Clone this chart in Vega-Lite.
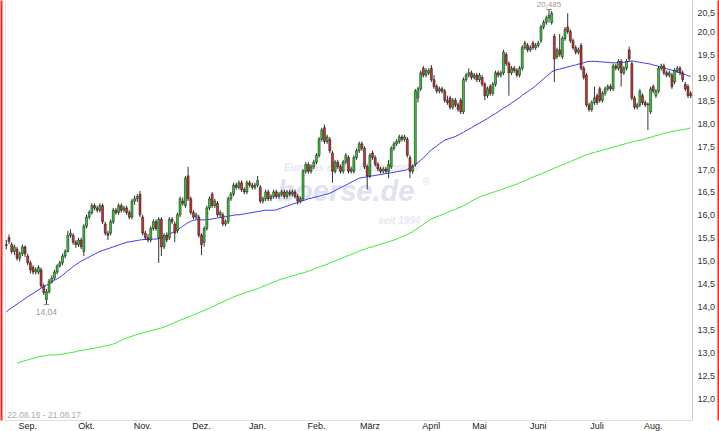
{
"$schema":"https://vega.github.io/schema/vega-lite/v6.json",
"width":687,"height":420,
"autosize":{"type":"none"},
"padding":{"left":5,"top":0,"right":27,"bottom":11},
"background":"#ffffff",
"config":{"font":"Liberation Sans","view":{"stroke":null},"axis":{"grid":false}},
"datasets":{
"p":[
{"d":"2016-08-22","o":15.33,"h":15.45,"l":15.25,"c":15.35,"m":13.88,"s":null},
{"d":"2016-08-23","o":15.5,"h":15.57,"l":15.36,"c":15.42,"m":13.93,"s":null},
{"d":"2016-08-24","o":15.35,"h":15.4,"l":15.15,"c":15.2,"m":13.97,"s":null},
{"d":"2016-08-25","o":15.2,"h":15.35,"l":15.12,"c":15.3,"m":14.01,"s":null},
{"d":"2016-08-26","o":15.25,"h":15.3,"l":15.0,"c":15.05,"m":14.05,"s":12.76},
{"d":"2016-08-29","o":15.05,"h":15.2,"l":14.98,"c":15.15,"m":14.09,"s":12.78},
{"d":"2016-08-30","o":15.15,"h":15.35,"l":15.1,"c":15.3,"m":14.13,"s":12.8},
{"d":"2016-08-31","o":15.3,"h":15.33,"l":15.08,"c":15.15,"m":14.17,"s":12.82},
{"d":"2016-09-01","o":15.1,"h":15.15,"l":14.9,"c":14.95,"m":14.21,"s":12.83},
{"d":"2016-09-02","o":14.95,"h":15.0,"l":14.72,"c":14.8,"m":14.25,"s":12.85},
{"d":"2016-09-05","o":14.85,"h":14.9,"l":14.7,"c":14.75,"m":14.28,"s":12.87},
{"d":"2016-09-06","o":14.75,"h":14.85,"l":14.7,"c":14.8,"m":14.32,"s":12.88},
{"d":"2016-09-07","o":14.75,"h":14.9,"l":14.7,"c":14.85,"m":14.36,"s":12.9},
{"d":"2016-09-08","o":14.8,"h":14.85,"l":14.4,"c":14.45,"m":14.4,"s":12.91},
{"d":"2016-09-09","o":14.45,"h":14.5,"l":14.25,"c":14.3,"m":14.43,"s":12.92},
{"d":"2016-09-12","o":14.15,"h":14.38,"l":14.04,"c":14.32,"m":14.46,"s":12.93},
{"d":"2016-09-13","o":14.32,"h":14.6,"l":14.28,"c":14.55,"m":14.5,"s":12.94},
{"d":"2016-09-14","o":14.55,"h":14.68,"l":14.5,"c":14.62,"m":14.53,"s":12.94},
{"d":"2016-09-15","o":14.62,"h":14.8,"l":14.58,"c":14.75,"m":14.57,"s":12.94},
{"d":"2016-09-16","o":14.75,"h":14.92,"l":14.7,"c":14.88,"m":14.6,"s":12.94},
{"d":"2016-09-19","o":14.88,"h":15.0,"l":14.85,"c":14.95,"m":14.64,"s":12.95},
{"d":"2016-09-20","o":14.95,"h":15.15,"l":14.9,"c":15.1,"m":14.68,"s":12.96},
{"d":"2016-09-21","o":15.1,"h":15.25,"l":15.05,"c":15.2,"m":14.73,"s":12.97},
{"d":"2016-09-22","o":15.2,"h":15.65,"l":15.18,"c":15.55,"m":14.78,"s":12.98},
{"d":"2016-09-23","o":15.55,"h":15.68,"l":15.5,"c":15.6,"m":14.82,"s":12.99},
{"d":"2016-09-26","o":15.55,"h":15.6,"l":15.35,"c":15.4,"m":14.87,"s":13.0},
{"d":"2016-09-27","o":15.4,"h":15.45,"l":15.28,"c":15.35,"m":14.91,"s":13.01},
{"d":"2016-09-28","o":15.35,"h":15.5,"l":15.3,"c":15.45,"m":14.95,"s":13.03},
{"d":"2016-09-29","o":15.45,"h":15.5,"l":15.25,"c":15.3,"m":14.99,"s":13.04},
{"d":"2016-09-30","o":15.2,"h":15.8,"l":15.1,"c":15.75,"m":15.02,"s":13.05},
{"d":"2016-10-03","o":15.75,"h":16.0,"l":15.7,"c":15.95,"m":15.05,"s":13.06},
{"d":"2016-10-04","o":15.95,"h":16.1,"l":15.9,"c":16.05,"m":15.08,"s":13.07},
{"d":"2016-10-05","o":16.05,"h":16.25,"l":16.0,"c":16.2,"m":15.11,"s":13.08},
{"d":"2016-10-06","o":16.2,"h":16.25,"l":16.1,"c":16.15,"m":15.14,"s":13.09},
{"d":"2016-10-07","o":16.15,"h":16.2,"l":16.05,"c":16.1,"m":15.17,"s":13.1},
{"d":"2016-10-10","o":16.1,"h":16.25,"l":16.05,"c":16.2,"m":15.2,"s":13.11},
{"d":"2016-10-11","o":16.2,"h":16.25,"l":15.8,"c":15.85,"m":15.22,"s":13.13},
{"d":"2016-10-12","o":15.8,"h":15.85,"l":15.55,"c":15.6,"m":15.24,"s":13.14},
{"d":"2016-10-13","o":15.6,"h":15.65,"l":15.45,"c":15.55,"m":15.26,"s":13.15},
{"d":"2016-10-14","o":15.6,"h":15.9,"l":15.55,"c":15.85,"m":15.28,"s":13.16},
{"d":"2016-10-17","o":15.85,"h":16.15,"l":15.8,"c":16.1,"m":15.3,"s":13.18},
{"d":"2016-10-18","o":16.1,"h":16.15,"l":16.0,"c":16.05,"m":15.32,"s":13.2},
{"d":"2016-10-19","o":16.05,"h":16.25,"l":16.0,"c":16.2,"m":15.34,"s":13.23},
{"d":"2016-10-20","o":16.2,"h":16.25,"l":16.05,"c":16.1,"m":15.36,"s":13.26},
{"d":"2016-10-21","o":16.1,"h":16.2,"l":16.05,"c":16.15,"m":15.38,"s":13.29},
{"d":"2016-10-24","o":16.15,"h":16.2,"l":16.0,"c":16.05,"m":15.4,"s":13.31},
{"d":"2016-10-25","o":16.05,"h":16.1,"l":15.9,"c":15.95,"m":15.41,"s":13.33},
{"d":"2016-10-26","o":15.95,"h":16.35,"l":15.9,"c":16.3,"m":15.42,"s":13.35},
{"d":"2016-10-27","o":16.3,"h":16.42,"l":16.22,"c":16.35,"m":15.43,"s":13.37},
{"d":"2016-10-28","o":16.35,"h":16.45,"l":16.28,"c":16.4,"m":15.44,"s":13.39},
{"d":"2016-10-31","o":16.45,"h":16.52,"l":15.95,"c":16.0,"m":15.45,"s":13.41},
{"d":"2016-11-01","o":15.95,"h":16.0,"l":15.55,"c":15.6,"m":15.46,"s":13.42},
{"d":"2016-11-02","o":15.6,"h":15.65,"l":15.45,"c":15.5,"m":15.46,"s":13.44},
{"d":"2016-11-03","o":15.5,"h":15.58,"l":15.4,"c":15.45,"m":15.46,"s":13.45},
{"d":"2016-11-04","o":15.45,"h":15.75,"l":15.4,"c":15.7,"m":15.47,"s":13.47},
{"d":"2016-11-07","o":15.7,"h":15.9,"l":15.65,"c":15.85,"m":15.47,"s":13.48},
{"d":"2016-11-08","o":15.85,"h":15.9,"l":15.65,"c":15.7,"m":15.47,"s":13.5},
{"d":"2016-11-09","o":15.5,"h":15.95,"l":14.95,"c":15.9,"m":15.48,"s":13.51},
{"d":"2016-11-10","o":15.9,"h":15.95,"l":15.1,"c":15.3,"m":15.5,"s":13.53},
{"d":"2016-11-11","o":15.3,"h":15.6,"l":15.25,"c":15.55,"m":15.52,"s":13.55},
{"d":"2016-11-14","o":15.55,"h":15.62,"l":15.4,"c":15.45,"m":15.55,"s":13.57},
{"d":"2016-11-15","o":15.5,"h":15.95,"l":15.45,"c":15.9,"m":15.58,"s":13.6},
{"d":"2016-11-16","o":15.9,"h":15.95,"l":15.8,"c":15.85,"m":15.61,"s":13.62},
{"d":"2016-11-17","o":15.8,"h":15.85,"l":15.4,"c":15.6,"m":15.64,"s":13.65},
{"d":"2016-11-18","o":15.65,"h":16.05,"l":15.6,"c":16.0,"m":15.67,"s":13.67},
{"d":"2016-11-21","o":16.0,"h":16.4,"l":15.95,"c":16.35,"m":15.71,"s":13.7},
{"d":"2016-11-22","o":16.3,"h":16.38,"l":16.2,"c":16.25,"m":15.75,"s":13.72},
{"d":"2016-11-23","o":16.2,"h":16.85,"l":16.15,"c":16.8,"m":15.79,"s":13.75},
{"d":"2016-11-24","o":16.85,"h":17.05,"l":16.3,"c":16.35,"m":15.83,"s":13.77},
{"d":"2016-11-25","o":16.35,"h":16.4,"l":16.0,"c":16.05,"m":15.86,"s":13.79},
{"d":"2016-11-28","o":16.05,"h":16.1,"l":15.9,"c":15.95,"m":15.88,"s":13.82},
{"d":"2016-11-29","o":15.95,"h":16.05,"l":15.9,"c":16.0,"m":15.89,"s":13.84},
{"d":"2016-11-30","o":15.95,"h":16.0,"l":15.5,"c":15.55,"m":15.89,"s":13.86},
{"d":"2016-12-01","o":15.55,"h":15.6,"l":15.12,"c":15.35,"m":15.89,"s":13.89},
{"d":"2016-12-02","o":15.4,"h":15.75,"l":15.3,"c":15.7,"m":15.89,"s":13.91},
{"d":"2016-12-05","o":15.7,"h":16.2,"l":15.65,"c":16.15,"m":15.89,"s":13.94},
{"d":"2016-12-06","o":16.15,"h":16.4,"l":16.1,"c":16.35,"m":15.9,"s":13.96},
{"d":"2016-12-07","o":16.45,"h":16.5,"l":16.15,"c":16.2,"m":15.91,"s":13.99},
{"d":"2016-12-08","o":16.2,"h":16.35,"l":16.15,"c":16.3,"m":15.92,"s":14.02},
{"d":"2016-12-09","o":16.25,"h":16.3,"l":15.95,"c":16.0,"m":15.93,"s":14.05},
{"d":"2016-12-12","o":16.0,"h":16.1,"l":15.95,"c":16.05,"m":15.94,"s":14.07},
{"d":"2016-12-13","o":16.0,"h":16.05,"l":15.75,"c":15.8,"m":15.95,"s":14.1},
{"d":"2016-12-14","o":15.8,"h":15.9,"l":15.75,"c":15.85,"m":15.96,"s":14.13},
{"d":"2016-12-15","o":15.85,"h":16.4,"l":15.8,"c":16.35,"m":15.97,"s":14.15},
{"d":"2016-12-16","o":16.35,"h":16.5,"l":16.3,"c":16.45,"m":15.98,"s":14.18},
{"d":"2016-12-19","o":16.45,"h":16.7,"l":16.4,"c":16.65,"m":15.99,"s":14.21},
{"d":"2016-12-20","o":16.65,"h":16.7,"l":16.55,"c":16.6,"m":16.0,"s":14.23},
{"d":"2016-12-21","o":16.6,"h":16.75,"l":16.55,"c":16.7,"m":16.0,"s":14.25},
{"d":"2016-12-22","o":16.7,"h":16.75,"l":16.5,"c":16.55,"m":16.01,"s":14.27},
{"d":"2016-12-23","o":16.55,"h":16.6,"l":16.45,"c":16.5,"m":16.02,"s":14.29},
{"d":"2016-12-27","o":16.5,"h":16.75,"l":16.45,"c":16.7,"m":16.03,"s":14.31},
{"d":"2016-12-28","o":16.7,"h":16.75,"l":16.6,"c":16.65,"m":16.04,"s":14.33},
{"d":"2016-12-29","o":16.65,"h":16.7,"l":16.55,"c":16.6,"m":16.05,"s":14.35},
{"d":"2016-12-30","o":16.6,"h":16.7,"l":16.55,"c":16.65,"m":16.06,"s":14.36},
{"d":"2017-01-02","o":16.65,"h":16.85,"l":16.6,"c":16.75,"m":16.07,"s":14.39},
{"d":"2017-01-03","o":16.6,"h":16.65,"l":16.25,"c":16.3,"m":16.08,"s":14.41},
{"d":"2017-01-04","o":16.3,"h":16.4,"l":16.25,"c":16.35,"m":16.09,"s":14.44},
{"d":"2017-01-05","o":16.35,"h":16.55,"l":16.3,"c":16.5,"m":16.1,"s":14.46},
{"d":"2017-01-06","o":16.5,"h":16.55,"l":16.3,"c":16.35,"m":16.1,"s":14.48},
{"d":"2017-01-09","o":16.35,"h":16.45,"l":16.3,"c":16.4,"m":16.1,"s":14.51},
{"d":"2017-01-10","o":16.4,"h":16.55,"l":16.35,"c":16.5,"m":16.1,"s":14.53},
{"d":"2017-01-11","o":16.5,"h":16.55,"l":16.35,"c":16.4,"m":16.11,"s":14.55},
{"d":"2017-01-12","o":16.4,"h":16.5,"l":16.35,"c":16.45,"m":16.13,"s":14.58},
{"d":"2017-01-13","o":16.45,"h":16.55,"l":16.4,"c":16.5,"m":16.15,"s":14.6},
{"d":"2017-01-16","o":16.5,"h":16.55,"l":16.35,"c":16.4,"m":16.17,"s":14.61},
{"d":"2017-01-17","o":16.4,"h":16.55,"l":16.35,"c":16.5,"m":16.19,"s":14.63},
{"d":"2017-01-18","o":16.5,"h":16.55,"l":16.4,"c":16.45,"m":16.21,"s":14.65},
{"d":"2017-01-19","o":16.45,"h":16.55,"l":16.4,"c":16.5,"m":16.23,"s":14.67},
{"d":"2017-01-20","o":16.5,"h":16.55,"l":16.35,"c":16.4,"m":16.25,"s":14.68},
{"d":"2017-01-23","o":16.4,"h":16.45,"l":16.22,"c":16.3,"m":16.27,"s":14.7},
{"d":"2017-01-24","o":16.3,"h":16.4,"l":16.25,"c":16.35,"m":16.29,"s":14.72},
{"d":"2017-01-25","o":16.35,"h":17.0,"l":16.3,"c":16.95,"m":16.31,"s":14.73},
{"d":"2017-01-26","o":16.95,"h":17.15,"l":16.9,"c":17.1,"m":16.33,"s":14.75},
{"d":"2017-01-27","o":17.1,"h":17.15,"l":16.9,"c":16.95,"m":16.35,"s":14.77},
{"d":"2017-01-30","o":16.95,"h":17.1,"l":16.9,"c":17.05,"m":16.36,"s":14.79},
{"d":"2017-01-31","o":17.05,"h":17.2,"l":17.0,"c":17.15,"m":16.38,"s":14.81},
{"d":"2017-02-01","o":17.15,"h":17.35,"l":17.1,"c":17.3,"m":16.39,"s":14.84},
{"d":"2017-02-02","o":17.3,"h":17.7,"l":17.25,"c":17.65,"m":16.41,"s":14.86},
{"d":"2017-02-03","o":17.65,"h":17.9,"l":17.6,"c":17.85,"m":16.42,"s":14.88},
{"d":"2017-02-06","o":17.9,"h":17.97,"l":17.55,"c":17.6,"m":16.44,"s":14.9},
{"d":"2017-02-07","o":17.6,"h":17.75,"l":17.55,"c":17.7,"m":16.45,"s":14.92},
{"d":"2017-02-08","o":17.65,"h":17.7,"l":17.35,"c":17.4,"m":16.47,"s":14.95},
{"d":"2017-02-09","o":17.35,"h":17.4,"l":16.7,"c":16.95,"m":16.5,"s":14.97},
{"d":"2017-02-10","o":16.95,"h":17.2,"l":16.9,"c":17.15,"m":16.53,"s":14.99},
{"d":"2017-02-13","o":17.15,"h":17.2,"l":17.0,"c":17.05,"m":16.56,"s":15.02},
{"d":"2017-02-14","o":17.05,"h":17.1,"l":16.9,"c":16.95,"m":16.59,"s":15.04},
{"d":"2017-02-15","o":16.95,"h":17.2,"l":16.9,"c":17.15,"m":16.62,"s":15.06},
{"d":"2017-02-16","o":17.15,"h":17.35,"l":17.1,"c":17.3,"m":16.65,"s":15.09},
{"d":"2017-02-17","o":17.25,"h":17.3,"l":16.9,"c":16.95,"m":16.68,"s":15.11},
{"d":"2017-02-20","o":16.95,"h":17.05,"l":16.9,"c":17.0,"m":16.71,"s":15.13},
{"d":"2017-02-21","o":16.95,"h":17.3,"l":16.9,"c":17.25,"m":16.74,"s":15.16},
{"d":"2017-02-22","o":17.25,"h":17.45,"l":17.2,"c":17.4,"m":16.77,"s":15.18},
{"d":"2017-02-23","o":17.4,"h":17.6,"l":17.35,"c":17.55,"m":16.8,"s":15.21},
{"d":"2017-02-24","o":17.55,"h":17.6,"l":17.4,"c":17.45,"m":16.81,"s":15.23},
{"d":"2017-02-27","o":17.45,"h":17.5,"l":17.0,"c":17.05,"m":16.82,"s":15.25},
{"d":"2017-02-28","o":17.05,"h":17.1,"l":16.55,"c":16.85,"m":16.83,"s":15.27},
{"d":"2017-03-01","o":16.85,"h":17.35,"l":16.8,"c":17.3,"m":16.84,"s":15.29},
{"d":"2017-03-02","o":17.35,"h":17.4,"l":17.2,"c":17.25,"m":16.85,"s":15.3},
{"d":"2017-03-03","o":17.25,"h":17.3,"l":17.05,"c":17.1,"m":16.86,"s":15.32},
{"d":"2017-03-06","o":17.1,"h":17.15,"l":16.95,"c":17.0,"m":16.87,"s":15.34},
{"d":"2017-03-07","o":17.0,"h":17.05,"l":16.9,"c":16.95,"m":16.88,"s":15.36},
{"d":"2017-03-08","o":16.95,"h":17.05,"l":16.9,"c":17.0,"m":16.89,"s":15.38},
{"d":"2017-03-09","o":17.0,"h":17.05,"l":16.9,"c":16.95,"m":16.9,"s":15.39},
{"d":"2017-03-10","o":16.95,"h":17.2,"l":16.8,"c":17.1,"m":16.91,"s":15.41},
{"d":"2017-03-13","o":17.05,"h":17.5,"l":17.0,"c":17.45,"m":16.92,"s":15.43},
{"d":"2017-03-14","o":17.45,"h":17.6,"l":17.4,"c":17.55,"m":16.93,"s":15.45},
{"d":"2017-03-15","o":17.55,"h":17.65,"l":17.5,"c":17.6,"m":16.94,"s":15.47},
{"d":"2017-03-16","o":17.6,"h":17.75,"l":17.55,"c":17.7,"m":16.95,"s":15.5},
{"d":"2017-03-17","o":17.7,"h":17.75,"l":17.6,"c":17.65,"m":16.96,"s":15.52},
{"d":"2017-03-20","o":17.65,"h":17.75,"l":17.6,"c":17.7,"m":16.97,"s":15.55},
{"d":"2017-03-21","o":17.65,"h":17.7,"l":17.25,"c":17.3,"m":16.99,"s":15.57},
{"d":"2017-03-22","o":17.25,"h":17.3,"l":16.8,"c":16.95,"m":17.02,"s":15.6},
{"d":"2017-03-23","o":16.95,"h":17.1,"l":16.9,"c":17.05,"m":17.06,"s":15.63},
{"d":"2017-03-24","o":17.1,"h":18.75,"l":17.05,"c":18.7,"m":17.1,"s":15.67},
{"d":"2017-03-27","o":18.55,"h":18.8,"l":18.45,"c":18.75,"m":17.14,"s":15.71},
{"d":"2017-03-28","o":18.75,"h":19.15,"l":18.7,"c":19.1,"m":17.19,"s":15.75},
{"d":"2017-03-29","o":19.2,"h":19.25,"l":19.0,"c":19.05,"m":17.24,"s":15.79},
{"d":"2017-03-30","o":19.05,"h":19.2,"l":19.0,"c":19.15,"m":17.3,"s":15.83},
{"d":"2017-03-31","o":19.1,"h":19.2,"l":19.05,"c":19.15,"m":17.36,"s":15.87},
{"d":"2017-04-03","o":19.2,"h":19.27,"l":18.9,"c":18.95,"m":17.42,"s":15.91},
{"d":"2017-04-04","o":18.95,"h":19.05,"l":18.75,"c":18.8,"m":17.46,"s":15.93},
{"d":"2017-04-05","o":18.8,"h":18.85,"l":18.65,"c":18.7,"m":17.5,"s":15.96},
{"d":"2017-04-06","o":18.7,"h":18.8,"l":18.65,"c":18.75,"m":17.55,"s":15.98},
{"d":"2017-04-07","o":18.75,"h":18.8,"l":18.65,"c":18.7,"m":17.59,"s":16.0},
{"d":"2017-04-10","o":18.7,"h":18.75,"l":18.45,"c":18.5,"m":17.63,"s":16.03},
{"d":"2017-04-11","o":18.5,"h":18.6,"l":18.4,"c":18.45,"m":17.65,"s":16.05},
{"d":"2017-04-12","o":18.55,"h":18.6,"l":18.3,"c":18.35,"m":17.67,"s":16.08},
{"d":"2017-04-13","o":18.35,"h":18.55,"l":18.3,"c":18.5,"m":17.69,"s":16.1},
{"d":"2017-04-18","o":18.5,"h":18.55,"l":18.35,"c":18.4,"m":17.71,"s":16.12},
{"d":"2017-04-19","o":18.4,"h":18.45,"l":18.25,"c":18.3,"m":17.74,"s":16.15},
{"d":"2017-04-20","o":18.5,"h":18.55,"l":18.2,"c":18.25,"m":17.77,"s":16.17},
{"d":"2017-04-21","o":18.25,"h":19.0,"l":18.2,"c":18.95,"m":17.8,"s":16.2},
{"d":"2017-04-24","o":18.95,"h":19.1,"l":18.9,"c":19.05,"m":17.84,"s":16.23},
{"d":"2017-04-25","o":19.05,"h":19.2,"l":19.0,"c":19.1,"m":17.87,"s":16.26},
{"d":"2017-04-26","o":19.1,"h":19.15,"l":18.95,"c":19.0,"m":17.9,"s":16.3},
{"d":"2017-04-27","o":19.0,"h":19.1,"l":18.95,"c":19.05,"m":17.94,"s":16.33},
{"d":"2017-04-28","o":19.05,"h":19.1,"l":18.9,"c":18.95,"m":17.97,"s":16.36},
{"d":"2017-05-02","o":18.95,"h":19.1,"l":18.9,"c":19.05,"m":18.0,"s":16.39},
{"d":"2017-05-03","o":19.0,"h":19.05,"l":18.8,"c":18.85,"m":18.04,"s":16.41},
{"d":"2017-05-04","o":18.85,"h":18.9,"l":18.5,"c":18.6,"m":18.07,"s":16.43},
{"d":"2017-05-05","o":18.6,"h":18.8,"l":18.55,"c":18.75,"m":18.1,"s":16.45},
{"d":"2017-05-08","o":18.8,"h":18.85,"l":18.6,"c":18.65,"m":18.14,"s":16.47},
{"d":"2017-05-09","o":18.65,"h":18.9,"l":18.6,"c":18.85,"m":18.18,"s":16.49},
{"d":"2017-05-10","o":18.85,"h":19.15,"l":18.8,"c":19.1,"m":18.21,"s":16.51},
{"d":"2017-05-11","o":19.1,"h":19.15,"l":19.0,"c":19.05,"m":18.25,"s":16.53},
{"d":"2017-05-12","o":19.05,"h":19.15,"l":19.0,"c":19.1,"m":18.29,"s":16.55},
{"d":"2017-05-15","o":19.1,"h":19.6,"l":19.05,"c":19.55,"m":18.33,"s":16.57},
{"d":"2017-05-16","o":19.5,"h":19.55,"l":19.25,"c":19.3,"m":18.36,"s":16.59},
{"d":"2017-05-17","o":19.3,"h":19.35,"l":18.6,"c":19.1,"m":18.4,"s":16.61},
{"d":"2017-05-18","o":19.1,"h":19.25,"l":19.05,"c":19.2,"m":18.44,"s":16.63},
{"d":"2017-05-19","o":19.2,"h":19.25,"l":19.1,"c":19.15,"m":18.48,"s":16.65},
{"d":"2017-05-22","o":19.15,"h":19.2,"l":19.0,"c":19.05,"m":18.52,"s":16.67},
{"d":"2017-05-23","o":19.05,"h":19.25,"l":19.0,"c":19.2,"m":18.56,"s":16.7},
{"d":"2017-05-24","o":19.2,"h":19.7,"l":19.15,"c":19.65,"m":18.61,"s":16.72},
{"d":"2017-05-25","o":19.65,"h":19.8,"l":19.6,"c":19.75,"m":18.65,"s":16.75},
{"d":"2017-05-26","o":19.7,"h":19.75,"l":19.55,"c":19.6,"m":18.69,"s":16.77},
{"d":"2017-05-29","o":19.6,"h":19.7,"l":19.55,"c":19.65,"m":18.73,"s":16.8},
{"d":"2017-05-30","o":19.75,"h":19.8,"l":19.6,"c":19.65,"m":18.77,"s":16.82},
{"d":"2017-05-31","o":19.65,"h":19.75,"l":19.6,"c":19.7,"m":18.82,"s":16.85},
{"d":"2017-06-01","o":19.7,"h":19.8,"l":19.65,"c":19.75,"m":18.87,"s":16.87},
{"d":"2017-06-02","o":19.8,"h":20.15,"l":19.75,"c":20.1,"m":18.92,"s":16.89},
{"d":"2017-06-05","o":20.1,"h":20.25,"l":20.05,"c":20.2,"m":18.97,"s":16.92},
{"d":"2017-06-06","o":20.2,"h":20.35,"l":20.15,"c":20.3,"m":19.02,"s":16.94},
{"d":"2017-06-07","o":20.3,"h":20.485,"l":20.2,"c":20.35,"m":19.07,"s":16.97},
{"d":"2017-06-08","o":20.2,"h":20.45,"l":20.15,"c":20.4,"m":19.12,"s":16.99},
{"d":"2017-06-09","o":19.9,"h":19.95,"l":18.9,"c":19.4,"m":19.15,"s":17.02},
{"d":"2017-06-12","o":19.45,"h":19.65,"l":19.4,"c":19.6,"m":19.17,"s":17.04},
{"d":"2017-06-13","o":19.6,"h":19.95,"l":19.45,"c":19.5,"m":19.18,"s":17.07},
{"d":"2017-06-14","o":19.45,"h":19.9,"l":19.4,"c":19.85,"m":19.2,"s":17.09},
{"d":"2017-06-15","o":19.85,"h":20.1,"l":19.8,"c":20.05,"m":19.21,"s":17.11},
{"d":"2017-06-16","o":20.1,"h":20.4,"l":19.95,"c":20.0,"m":19.23,"s":17.14},
{"d":"2017-06-19","o":20.0,"h":20.05,"l":19.75,"c":19.8,"m":19.24,"s":17.16},
{"d":"2017-06-20","o":19.8,"h":19.85,"l":19.6,"c":19.65,"m":19.26,"s":17.19},
{"d":"2017-06-21","o":19.65,"h":19.7,"l":19.5,"c":19.55,"m":19.27,"s":17.21},
{"d":"2017-06-22","o":19.55,"h":19.65,"l":19.5,"c":19.6,"m":19.29,"s":17.24},
{"d":"2017-06-23","o":19.7,"h":19.75,"l":19.15,"c":19.2,"m":19.3,"s":17.26},
{"d":"2017-06-26","o":19.2,"h":19.25,"l":18.95,"c":19.0,"m":19.32,"s":17.29},
{"d":"2017-06-27","o":19.05,"h":19.1,"l":18.35,"c":18.4,"m":19.34,"s":17.31},
{"d":"2017-06-28","o":18.4,"h":18.45,"l":18.25,"c":18.3,"m":19.35,"s":17.33},
{"d":"2017-06-29","o":18.3,"h":18.5,"l":18.25,"c":18.45,"m":19.35,"s":17.35},
{"d":"2017-06-30","o":18.45,"h":18.8,"l":18.4,"c":18.55,"m":19.35,"s":17.36},
{"d":"2017-07-03","o":18.6,"h":18.65,"l":18.4,"c":18.45,"m":19.35,"s":17.38},
{"d":"2017-07-04","o":18.75,"h":18.8,"l":18.45,"c":18.5,"m":19.34,"s":17.39},
{"d":"2017-07-05","o":18.5,"h":18.7,"l":18.45,"c":18.65,"m":19.34,"s":17.41},
{"d":"2017-07-06","o":18.65,"h":18.8,"l":18.6,"c":18.75,"m":19.33,"s":17.43},
{"d":"2017-07-07","o":18.75,"h":18.85,"l":18.7,"c":18.8,"m":19.33,"s":17.44},
{"d":"2017-07-10","o":18.8,"h":18.85,"l":18.7,"c":18.75,"m":19.32,"s":17.46},
{"d":"2017-07-11","o":18.75,"h":19.3,"l":18.7,"c":19.25,"m":19.32,"s":17.48},
{"d":"2017-07-12","o":19.25,"h":19.3,"l":19.15,"c":19.2,"m":19.32,"s":17.49},
{"d":"2017-07-13","o":19.2,"h":19.4,"l":19.15,"c":19.35,"m":19.32,"s":17.51},
{"d":"2017-07-14","o":19.35,"h":19.4,"l":18.8,"c":19.1,"m":19.33,"s":17.53},
{"d":"2017-07-17","o":19.1,"h":19.25,"l":19.05,"c":19.2,"m":19.33,"s":17.54},
{"d":"2017-07-18","o":19.2,"h":19.4,"l":19.15,"c":19.35,"m":19.34,"s":17.56},
{"d":"2017-07-19","o":19.6,"h":19.67,"l":19.35,"c":19.4,"m":19.35,"s":17.57},
{"d":"2017-07-20","o":19.3,"h":19.35,"l":18.5,"c":18.55,"m":19.36,"s":17.59},
{"d":"2017-07-21","o":18.55,"h":18.6,"l":18.3,"c":18.35,"m":19.35,"s":17.6},
{"d":"2017-07-24","o":18.35,"h":18.45,"l":18.3,"c":18.4,"m":19.34,"s":17.62},
{"d":"2017-07-25","o":18.4,"h":18.75,"l":18.35,"c":18.7,"m":19.33,"s":17.63},
{"d":"2017-07-26","o":18.6,"h":18.65,"l":18.4,"c":18.45,"m":19.32,"s":17.64},
{"d":"2017-07-27","o":18.45,"h":18.5,"l":18.35,"c":18.4,"m":19.31,"s":17.66},
{"d":"2017-07-28","o":18.4,"h":18.45,"l":17.85,"c":18.42,"m":19.3,"s":17.68},
{"d":"2017-07-31","o":18.25,"h":18.8,"l":18.2,"c":18.75,"m":19.29,"s":17.69},
{"d":"2017-08-01","o":18.8,"h":18.85,"l":18.65,"c":18.7,"m":19.27,"s":17.71},
{"d":"2017-08-02","o":18.6,"h":18.75,"l":18.55,"c":18.7,"m":19.26,"s":17.73},
{"d":"2017-08-03","o":18.7,"h":19.25,"l":18.65,"c":19.2,"m":19.24,"s":17.74},
{"d":"2017-08-04","o":19.2,"h":19.3,"l":19.15,"c":19.25,"m":19.22,"s":17.76},
{"d":"2017-08-07","o":19.25,"h":19.3,"l":19.05,"c":19.1,"m":19.2,"s":17.78},
{"d":"2017-08-08","o":19.1,"h":19.15,"l":19.0,"c":19.05,"m":19.19,"s":17.79},
{"d":"2017-08-09","o":19.05,"h":19.15,"l":19.0,"c":19.1,"m":19.17,"s":17.8},
{"d":"2017-08-10","o":19.05,"h":19.1,"l":18.75,"c":18.8,"m":19.16,"s":17.82},
{"d":"2017-08-11","o":18.9,"h":19.2,"l":18.85,"c":19.15,"m":19.14,"s":17.83},
{"d":"2017-08-14","o":19.15,"h":19.25,"l":19.1,"c":19.2,"m":19.12,"s":17.84},
{"d":"2017-08-15","o":19.2,"h":19.25,"l":19.05,"c":19.1,"m":19.1,"s":17.85},
{"d":"2017-08-16","o":19.1,"h":19.15,"l":18.9,"c":18.95,"m":19.08,"s":17.86},
{"d":"2017-08-17","o":18.85,"h":18.9,"l":18.7,"c":18.75,"m":19.06,"s":17.87},
{"d":"2017-08-18","o":18.8,"h":18.85,"l":18.55,"c":18.6,"m":19.04,"s":17.88},
{"d":"2017-08-21","o":18.65,"h":18.7,"l":18.55,"c":18.6,"m":19.02,"s":17.9}
],
"wm":[
{"d":"2017-02-20","v":17.02,"t":"Europas erstes Finanzportal","k":"a"},
{"d":"2017-02-16","v":16.5,"t":"boerse.de","k":"b"},
{"d":"2017-03-30","v":16.72,"t":"®","k":"a"},
{"d":"2017-03-16","v":15.86,"t":"seit 1994","k":"a"}
],
"ann":[
{"d":"2017-06-07","v":20.485,"t":"20,485","pos":"hi"},
{"d":"2016-09-12","v":14.04,"t":"14,04","pos":"lo"}
],
"rng":[
{"d":"2016-08-22","v":11.63,"t":"22.08.16 - 21.08.17"}
]
},
"encoding":{
"x":{"field":"d","type":"ordinal","scale":{"paddingInner":0,"paddingOuter":0},
"axis":{"values":["2016-09-01","2016-10-03","2016-11-01","2016-12-01","2017-01-02","2017-02-01","2017-03-01","2017-04-03","2017-05-02","2017-06-01","2017-07-03","2017-08-01"],
"labelExpr":"['Jan.','Feb.','März','April','Mai','Juni','Juli','Aug.','Sep.','Okt.','Nov.','Dez.'][toNumber(slice(datum.value,5,7))-1]",
"title":null,"labelAngle":0,"ticks":false,"labelPadding":1,"domainColor":"#dddddd","labelColor":"#222222","labelFontSize":9,"labelOverlap":false,"labelBound":false,"labelFlush":false}}
},
"resolve":{"axis":{"y":"independent"}},
"layer":[
{"data":{"name":"wm"},
"mark":{"type":"text","fontWeight":"bold","fontStyle":"italic","align":"center","baseline":"middle"},
"encoding":{
"y":{"field":"v","type":"quantitative","scale":{"domain":[11.52,20.69],"nice":false,"zero":false},"axis":null},
"text":{"field":"t"},
"size":{"condition":{"test":"datum.k=='b'","value":29},"value":10},
"color":{"condition":{"test":"datum.k=='b'","value":"#dfe2ef"},"value":"#e6e8f1"}}},
{"data":{"name":"p"},
"mark":{"type":"line","color":"#33ee33","strokeWidth":1},
"encoding":{"y":{"field":"s","type":"quantitative","axis":{"orient":"left","labels":false,"ticks":false,"title":null,"domainColor":"#e6e6e6","domainWidth":1}}}},
{"data":{"name":"p"},
"mark":{"type":"line","color":"#3838ff","strokeWidth":1},
"encoding":{"y":{"field":"m","type":"quantitative","axis":{"orient":"left","offset":4,"labels":false,"ticks":false,"title":null,"domainColor":"#ff2020","domainWidth":2}}}},
{"data":{"name":"p"},
"mark":{"type":"rule","color":"#333333","strokeWidth":1},
"encoding":{
"y":{"field":"l","type":"quantitative","axis":{"orient":"right","values":[12,12.5,13,13.5,14,14.5,15,15.5,16,16.5,17,17.5,18,18.5,19,19.5,20,20.5],"labelExpr":"replace(format(datum.value,'.1f'),'.',',')","ticks":false,"labelPadding":5,"domainColor":"#cccccc","title":null,"labelColor":"#333333","labelFontSize":9,"labelBound":false,"labelFlush":false,"labelOverlap":false,"labelBaseline":{"condition":{"test":"datum.value>=20.5","value":"top"},"value":"middle"}}},
"y2":{"field":"h"}}},
{"data":{"name":"p"},
"mark":{"type":"bar","size":2,"stroke":"#111111","strokeWidth":0.5},
"encoding":{
"y":{"field":"o","type":"quantitative","axis":{"orient":"right","offset":26,"labels":false,"ticks":false,"title":null,"domainColor":"#ff2020","domainWidth":2}},
"y2":{"field":"c"},
"color":{"condition":{"test":"datum.c>=datum.o","value":"#33cc33"},"value":"#cc3333"}}},
{"data":{"name":"ann"},
"mark":{"type":"tick","orient":"horizontal","size":6,"thickness":1,"color":"#666666"},
"encoding":{"y":{"field":"v","type":"quantitative","axis":null}}},
{"data":{"name":"ann"},
"transform":[{"filter":"datum.pos=='hi'"}],
"mark":{"type":"text","fontSize":8,"color":"#999999","align":"center","baseline":"bottom","dy":0},
"encoding":{
"y":{"field":"v","type":"quantitative","axis":null},
"text":{"field":"t"}}},
{"data":{"name":"ann"},
"transform":[{"filter":"datum.pos=='lo'"}],
"mark":{"type":"text","fontSize":8.5,"color":"#999999","align":"center","baseline":"top","dy":3},
"encoding":{
"y":{"field":"v","type":"quantitative","axis":null},
"text":{"field":"t"}}},
{"data":{"name":"rng"},
"mark":{"type":"text","fontSize":8.5,"color":"#aaaaaa","align":"left","baseline":"middle","dx":1},
"encoding":{
"y":{"field":"v","type":"quantitative","axis":null},
"text":{"field":"t"}}}
]
}
